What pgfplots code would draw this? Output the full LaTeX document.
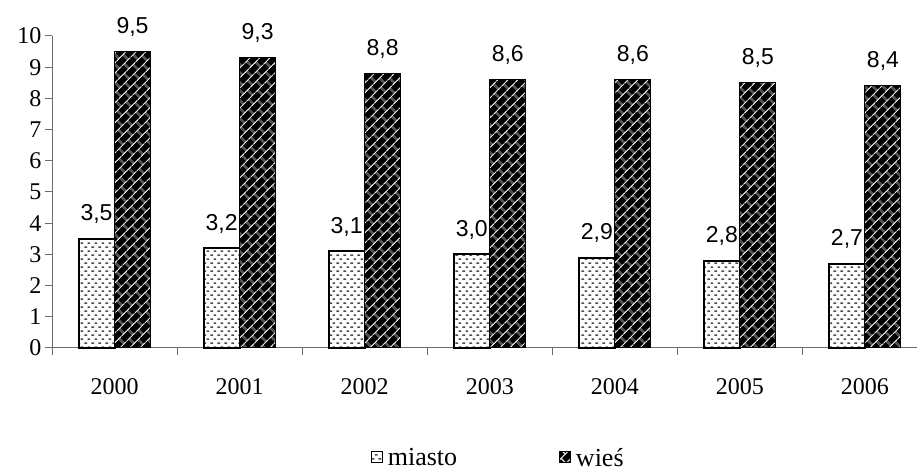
\documentclass[border=0pt]{standalone}
\usepackage{fontspec}
\setmainfont{Liberation Serif}
\setsansfont{Liberation Sans}
\usepackage{pgfplots}
\pgfplotsset{compat=1.18}
\usetikzlibrary{patterns.meta}

\pgfdeclarepattern{
  name=kropki, type=uncolored,
  bottom left={\pgfpoint{0pt}{0pt}},
  top right={\pgfpoint{7pt}{8.4pt}},
  tile size={\pgfpoint{7pt}{8.4pt}},
  code={
    \pgfsetlinewidth{1.6pt}
    \pgfpathmoveto{\pgfpoint{0.5pt}{2.1pt}}\pgfpathlineto{\pgfpoint{3.5pt}{2.1pt}}
    \pgfpathmoveto{\pgfpoint{4pt}{6.3pt}}\pgfpathlineto{\pgfpoint{7pt}{6.3pt}}
    \pgfusepath{stroke}
  }
}
\pgfdeclarepattern{
  name=cegly, type=uncolored,
  bottom left={\pgfpoint{0pt}{0pt}},
  top right={\pgfpoint{12pt}{14pt}},
  tile size={\pgfpoint{12pt}{14pt}},
  tile transformation={\pgftransformrotate{45}},
  code={
    \pgfsetlinewidth{1.1pt}
    \pgfpathmoveto{\pgfpoint{-1pt}{3.5pt}}\pgfpathlineto{\pgfpoint{13pt}{3.5pt}}
    \pgfpathmoveto{\pgfpoint{-1pt}{10.5pt}}\pgfpathlineto{\pgfpoint{13pt}{10.5pt}}
    \pgfpathmoveto{\pgfpoint{3pt}{3.5pt}}\pgfpathlineto{\pgfpoint{3pt}{10.5pt}}
    \pgfpathmoveto{\pgfpoint{9pt}{10.5pt}}\pgfpathlineto{\pgfpoint{9pt}{15pt}}
    \pgfpathmoveto{\pgfpoint{9pt}{-1pt}}\pgfpathlineto{\pgfpoint{9pt}{3.5pt}}
    \pgfusepath{stroke}
  }
}

\pgfplotstableread{
x miasto wies
0 3.5 9.5
1 3.2 9.3
2 3.1 8.8
3 3.0 8.6
4 2.9 8.6
5 2.8 8.5
6 2.7 8.4
}\dane

\begin{document}
\begin{tikzpicture}
\useasboundingbox (0,0) rectangle (917pt,470pt);
\begin{axis}[
  at={(52pt,122pt)}, anchor=south west,
  scale only axis, width=865pt, height=312pt,
  xmin=-0.5, xmax=6.416, ymin=0, ymax=10,
  axis x line*=bottom, axis y line*=left,
  axis line style={gray!85!black, line width=1pt},
  ytick={0,1,...,10},
  xtick={0,...,6},
  xticklabels={2000,2001,2002,2003,2004,2005,2006},
  minor xtick={-0.5,0.5,1.5,2.5,3.5,4.5,5.5},
  tick align=outside,
  major x tick style={draw=none},
  minor tick length=7pt,
  major tick length=7pt,
  tick style={gray!85!black, line width=1pt},
  tick label style={font=\fontsize{24}{27}\selectfont},
  xticklabel style={yshift=-20pt},
  /pgf/number format/assume math mode=true,
  clip=false,
  ybar,
  bar width=36pt,
  nodes near coords,
  nodes near coords style={font=\sffamily\fontsize{23}{26}\selectfont, anchor=base, yshift=18pt, inner sep=0pt,
    /pgf/number format/.cd, fixed, fixed zerofill, precision=1, use comma, assume math mode=true},
  legend columns=2,
  legend style={draw=none, at={(0.516,-0.352)}, anchor=center, font=\fontsize{26}{28}\selectfont,
    /tikz/every odd column/.append style={column sep=3pt},
    /tikz/every even column/.append style={column sep=100pt}},
  legend image code/.code={\draw[#1, line width=0.8pt] (0pt,-5pt) rectangle (11pt,6pt);},
]
\addplot[bar shift=-18pt, draw=black, line width=2pt, fill=white,
  postaction={pattern=kropki, pattern color=black!70}] table[x=x, y=miasto] {\dane};
\addplot[bar shift=18pt, draw=black, line width=1pt, fill=black,
  postaction={pattern=cegly, pattern color=white!80!gray}] table[x=x, y=wies] {\dane};
\legend{miasto, wieś}
\end{axis}
\end{tikzpicture}
\end{document}
